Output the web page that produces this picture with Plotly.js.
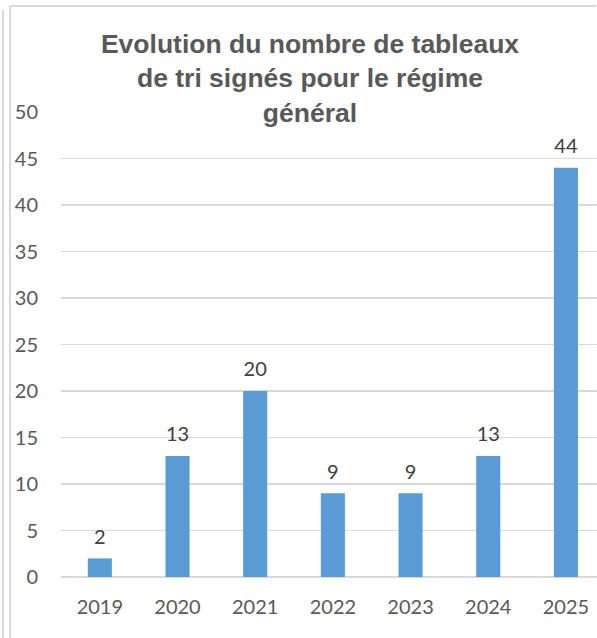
<!DOCTYPE html>
<html>
<head>
<meta charset="utf-8">
<script src="https://cdn.plot.ly/plotly-3.0.1.min.js"></script>
<style>html,body{margin:0;padding:0;background:#fff;}#chart{width:597px;height:638px;}</style>
</head>
<body>
<div id="chart"></div>
<script>
const years = ["2019", "2020", "2021", "2022", "2023", "2024", "2025"];
const counts = [2, 13, 20, 9, 9, 13, 44];
const yTicks = [0, 5, 10, 15, 20, 25, 30, 35, 40, 45, 50];
const chartTitle = "Evolution du nombre de tableaux<br>de tri signés pour le régime<br>général";

const W = 597, H = 638, L = 61, T = 112, B = 61;
const pw = W - L, ph = H - T - B;
const px = v => (v - L) / pw;
const py = v => (H - B - v) / ph;

const bars = {
  type: "bar",
  x: years,
  y: counts,
  width: 0.31,
  marker: {color: "#5B9BD5"},
  hoverinfo: "none"
};

const valueLabels = {
  type: "scatter",
  mode: "markers+text",
  x: years,
  y: counts,
  text: counts.map(String),
  textposition: "top center",
  textfont: {family: "Lato, 'Open Sans', sans-serif", size: 20, color: "#404040"},
  marker: {size: 14, color: "rgba(0,0,0,0)"},
  cliponaxis: false,
  hoverinfo: "none"
};

const layout = {
  width: W, height: H,
  margin: {l: L, r: 0, t: T, b: B, pad: 0},
  paper_bgcolor: "#ffffff",
  plot_bgcolor: "#ffffff",
  showlegend: false,
  title: {
    text: chartTitle,
    font: {family: "'Liberation Sans', Arial, sans-serif", size: 26.5, color: "#595959", weight: "bold"},
    x: 310 / W, xref: "container", xanchor: "center",
    y: 1 - 53 / H, yref: "container", yanchor: "top"
  },
  xaxis: {
    type: "category",
    range: [-0.5, 6.4],
    showgrid: false,
    showline: false,
    zeroline: false,
    ticks: "",
    ticklabelstandoff: 16,
    tickfont: {family: "Lato, 'Open Sans', sans-serif", size: 20, color: "#595959"}
  },
  yaxis: {
    range: [0, 50],
    tickvals: yTicks,
    ticktext: yTicks.map(String),
    showgrid: true,
    gridcolor: "#d9d9d9",
    gridwidth: 1.5,
    zeroline: true,
    zerolinecolor: "#d9d9d9",
    zerolinewidth: 1.5,
    showline: false,
    ticks: "",
    ticklabelstandoff: 22,
    tickfont: {family: "Lato, 'Open Sans', sans-serif", size: 20, color: "#595959"}
  },
  shapes: [
    {type: "line", xref: "paper", yref: "paper", x0: px(10), x1: px(596), y0: py(6), y1: py(6), line: {color: "#d9d9d9", width: 2}},
    {type: "line", xref: "paper", yref: "paper", x0: px(10), x1: px(10), y0: py(6), y1: py(638), line: {color: "#d9d9d9", width: 2}},
    {type: "line", xref: "paper", yref: "paper", x0: px(3), x1: px(3), y0: py(10), y1: py(638), line: {color: "#d9d9d9", width: 2}}
  ]
};

Plotly.newPlot("chart", [bars, valueLabels], layout, {displayModeBar: false, staticPlot: true});
</script>
</body>
</html>
